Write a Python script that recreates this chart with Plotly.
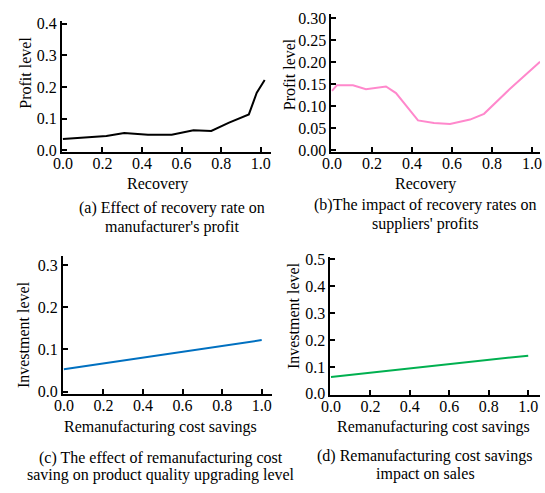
import plotly.graph_objects as go

# Panel (a): manufacturer's profit vs recovery
a_x = [0.0, 0.22, 0.31, 0.43, 0.55, 0.66, 0.75, 0.84, 0.94, 0.98, 1.02]
a_y = [0.035, 0.045, 0.054, 0.049, 0.049, 0.063, 0.061, 0.087, 0.113, 0.182, 0.222]

# Panel (b): suppliers' profits vs recovery
b_x = [0.0, 0.025, 0.105, 0.17, 0.27, 0.32, 0.43, 0.51, 0.59, 0.69, 0.76, 0.89, 1.04]
b_y = [0.135, 0.148, 0.148, 0.139, 0.145, 0.13, 0.068, 0.062, 0.06, 0.07, 0.083, 0.14, 0.201]

# Panel (c): investment level vs remanufacturing cost savings
c_x = [0.0, 1.0]
c_y = [0.053, 0.122]

# Panel (d)
d_x = [0.0, 1.0]
d_y = [0.063, 0.142]

W, H = 545, 493
FONT = "Liberation Serif"

def px(v):
    return v / W

def py(v):
    return 1 - v / H

fig = go.Figure()

panels = [
    dict(x=a_x, y=a_y, color="#000000", xd=(54, 267), yd=(150, 15), xr=[-0.005, 1.05], yr=[-0.005, 0.41],
         dt=0.1, fmt=".1f", xtitle="Recovery", ytitle="Profit level",
         xt_pos=(152, 183), yt_pos=(16, 69),
         cap=["(a) Effect of recovery rate on", "manufacturer's profit"], cap_pos=(166, 208, 227)),
    dict(x=b_x, y=b_y, color="#ff88cc", xd=(329, 542), yd=(150, 8), xr=[-0.003, 1.04], yr=[-0.003, 0.31],
         dt=0.05, fmt=".2f", xtitle="Recovery", ytitle="Profit level",
         xt_pos=(425, 183), yt_pos=(286, 70),
         cap=["(b)The impact of recovery rates on", "suppliers' profits"], cap_pos=(425, 205, 224)),
    dict(x=c_x, y=c_y, color="#0070c0", xd=(55, 268), yd=(399, 257), xr=[-0.005, 1.05], yr=[-0.005, 0.322],
         dt=0.1, fmt=".1f", xtitle="Remanufacturing cost savings", ytitle="Investment level",
         xt_pos=(155, 433), yt_pos=(15, 338),
         cap=["(c) The effect of remanufacturing cost", "saving on product quality upgrading level"], cap_pos=(155, 465, 483)),
    dict(x=d_x, y=d_y, color="#00b050", xd=(328, 542), yd=(400, 258), xr=[-0.003, 1.06], yr=[-0.003, 0.51],
         dt=0.1, fmt=".1f", xtitle="Remanufacturing cost savings", ytitle="Investment level",
         xt_pos=(433, 433), yt_pos=(291, 319),
         cap=["(d) Remanufacturing cost savings", "impact on sales"], cap_pos=(425, 463, 482)),
]

layout = {}
annotations = []
for i, p in enumerate(panels, start=1):
    xa = "xaxis" if i == 1 else f"xaxis{i}"
    ya = "yaxis" if i == 1 else f"yaxis{i}"
    xref = "x" if i == 1 else f"x{i}"
    yref = "y" if i == 1 else f"y{i}"
    fig.add_trace(go.Scatter(x=p["x"], y=p["y"], mode="lines",
                             line=dict(color=p["color"], width=2),
                             xaxis=xref, yaxis=yref, showlegend=False, hoverinfo="skip"))
    common = dict(showline=True, linecolor="black", linewidth=2, ticks="inside", ticklen=5,
                  tickwidth=2, tickcolor="black", showgrid=False, zeroline=False,
                  tickfont=dict(family=FONT, size=16, color="black"), mirror=False)
    layout[xa] = dict(domain=[px(p["xd"][0]), px(p["xd"][1])], range=p["xr"], dtick=0.2, tick0=0,
                      tickformat=".1f", anchor=yref, ticklabelstandoff=-4, **common)
    layout[ya] = dict(domain=[py(p["yd"][0]), py(p["yd"][1])], range=p["yr"], dtick=p["dt"], tick0=0,
                      tickformat=p["fmt"], anchor=xref, ticklabelstandoff=0, **common)
    annotations.append(dict(text=p["xtitle"], x=px(p["xt_pos"][0]), y=py(p["xt_pos"][1]),
                            xref="paper", yref="paper", showarrow=False, xanchor="center", yanchor="middle",
                            font=dict(family=FONT, size=16, color="black")))
    annotations.append(dict(text=p["ytitle"], x=px(p["yt_pos"][0]), y=py(p["yt_pos"][1]),
                            xref="paper", yref="paper", showarrow=False, xanchor="center", yanchor="middle",
                            textangle=-90, font=dict(family=FONT, size=16, color="black")))
    for line, yy in zip(p["cap"], p["cap_pos"][1:]):
        annotations.append(dict(text=line, x=px(p["cap_pos"][0]), y=py(yy),
                                xref="paper", yref="paper", showarrow=False, xanchor="center", yanchor="middle",
                                font=dict(family=FONT, size=16, color="black")))

fig.update_layout(width=W, height=H, margin=dict(l=0, r=0, t=0, b=0),
                  paper_bgcolor="white", plot_bgcolor="white",
                  annotations=annotations, **layout)

fig.write_html("out.html")
